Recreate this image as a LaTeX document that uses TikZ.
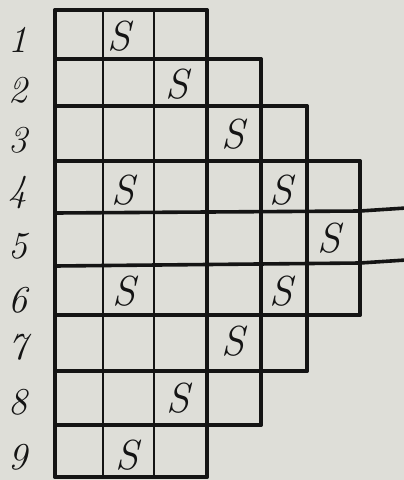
\documentclass[tikz,border=0pt]{standalone}
\usepackage{tikz}
\definecolor{paper}{RGB}{222,222,216}
\definecolor{ink}{RGB}{20,20,20}
\tikzset{
  hline/.style={draw=ink, line width=3.6pt, line cap=round, line join=round},
  vline/.style={draw=ink, line width=2.8pt, line cap=round},
  mark S/.style={font=\fontsize{42}{42}\selectfont\itshape, text=ink, inner sep=0pt},
  rowlabel/.style={font=\fontsize{38}{38}\selectfont\itshape, text=ink, inner sep=0pt}
}
\begin{document}
\begin{tikzpicture}[x=1pt,y=-1pt]
\fill[paper] (0,0) rectangle (404,480);
\useasboundingbox (0,0) rectangle (404,480);
% horizontal lines
\draw[hline] (55,10) -- (207,10);
\draw[hline] (55,59) -- (261,59);
\draw[hline] (55,106) -- (307,106);
\draw[hline] (55,161) -- (360,161);
\draw[hline] (55,213) -- (360,211) -- (406,208);
\draw[hline] (55,266) -- (360,263) -- (406,260);
\draw[hline] (55,315) -- (360,315);
\draw[hline] (55,371) -- (307,371);
\draw[hline] (55,425) -- (261,425);
\draw[hline] (55,477) -- (207,477);
% vertical lines
\draw[hline] (55,10) -- (55,477);
\draw[vline] (103,10) -- (103,477);
\draw[vline] (154,10) -- (154,477);
\draw[hline] (207,10) -- (207,477);
\draw[hline] (261,59) -- (261,425);
\draw[hline] (307,106) -- (307,371);
\draw[hline] (360,161) -- (360,315);
% row labels
\node[rowlabel] (r1) at (18,40) {1};
\node[rowlabel] (r2) at (18,90) {2};
\node[rowlabel] (r3) at (18,140) {3};
\node[rowlabel] (r4) at (18,193) {4};
\node[rowlabel] (r5) at (18,246) {5};
\node[rowlabel] (r6) at (18,300) {6};
\node[rowlabel] (r7) at (18,347) {7};
\node[rowlabel] (r8) at (18,402) {8};
\node[rowlabel] (r9) at (18,457) {9};
% S marks
\node[mark S] (s1) at (119,36) {S};
\node[mark S] (s2) at (177,84) {S};
\node[mark S] (s3) at (233,134) {S};
\node[mark S] (s4a) at (123,190) {S};
\node[mark S] (s4b) at (281,190) {S};
\node[mark S] (s5) at (329,238) {S};
\node[mark S] (s6a) at (124,291) {S};
\node[mark S] (s6b) at (281,291) {S};
\node[mark S] (s7) at (233,341) {S};
\node[mark S] (s8) at (178,398) {S};
\node[mark S] (s9) at (127,455) {S};
\end{tikzpicture}
\end{document}
